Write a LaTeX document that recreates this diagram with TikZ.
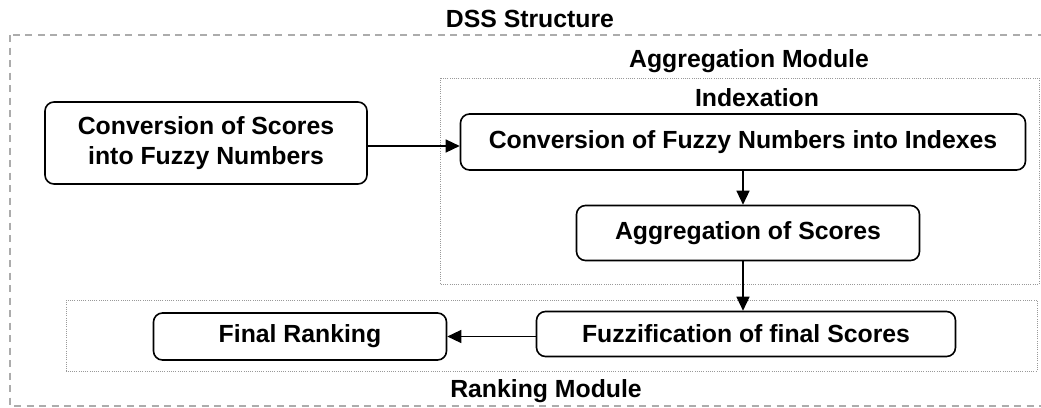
\documentclass[tikz,border=0pt]{standalone}
\usepackage{fontspec}
\setmainfont{Liberation Sans}
\usetikzlibrary{arrows.meta}
\begin{document}
\begin{tikzpicture}[x=1pt,y=-1pt,
    every node/.style={font=\fontsize{24.8}{30}\selectfont\bfseries},
    block/.style={draw,line width=1.6pt,rounded corners=9pt,align=center,inner sep=0pt},
    arr/.style={line width=1.4pt,-{Triangle[length=14pt,width=13pt]}},
    module/.style={draw=gray!80,line width=0.9pt,dash pattern=on 1pt off 1.2pt},
    frame/.style={draw=gray!65,line width=1.1pt,dash pattern=on 7pt off 5.5pt}]
    \useasboundingbox (0,0) rectangle (1041,407);
    % frames
    \draw[frame] (10,35) rectangle (1050,406);
    \draw[module] (440,78) rectangle (1039,284);
    \draw[module] (66,300) rectangle (1037,371);
    % titles
    \node[anchor=base] (dss) at (530,27) {DSS Structure};
    \node[anchor=base] (aggmod) at (749,67) {Aggregation Module};
    \node[anchor=base] (idx) at (757,106) {Indexation};
    \node[anchor=base] (rankmod) at (546,397) {Ranking Module};
    % blocks
    \node[block,minimum width=322pt,minimum height=82pt] (conv1) at (206,143)
        {Conversion of Scores\\into Fuzzy Numbers};
    \node[block,minimum width=565pt,minimum height=56pt] (conv2) at (743,142)
        {Conversion of Fuzzy Numbers into Indexes};
    \node[block,minimum width=343pt,minimum height=55pt] (aggr) at (748,233)
        {Aggregation of Scores};
    \node[block,minimum width=419pt,minimum height=45pt] (fuzz) at (746,334)
        {Fuzzification of final Scores};
    \node[block,minimum width=293pt,minimum height=47pt] (final) at (300,336.5)
        {Final Ranking};
    % arrows
    \draw[arr] ([yshift=-3pt]conv1.east) -- ([yshift=-3pt]conv1.east -| conv2.west);
    \draw[arr] (conv2.south) -- (conv2.south |- aggr.north);
    \draw[arr] (aggr.south -| conv2.south) -- (fuzz.north -| conv2.south);
    \draw[arr] (fuzz.west |- final.east) -- (final.east);
\end{tikzpicture}
\end{document}
